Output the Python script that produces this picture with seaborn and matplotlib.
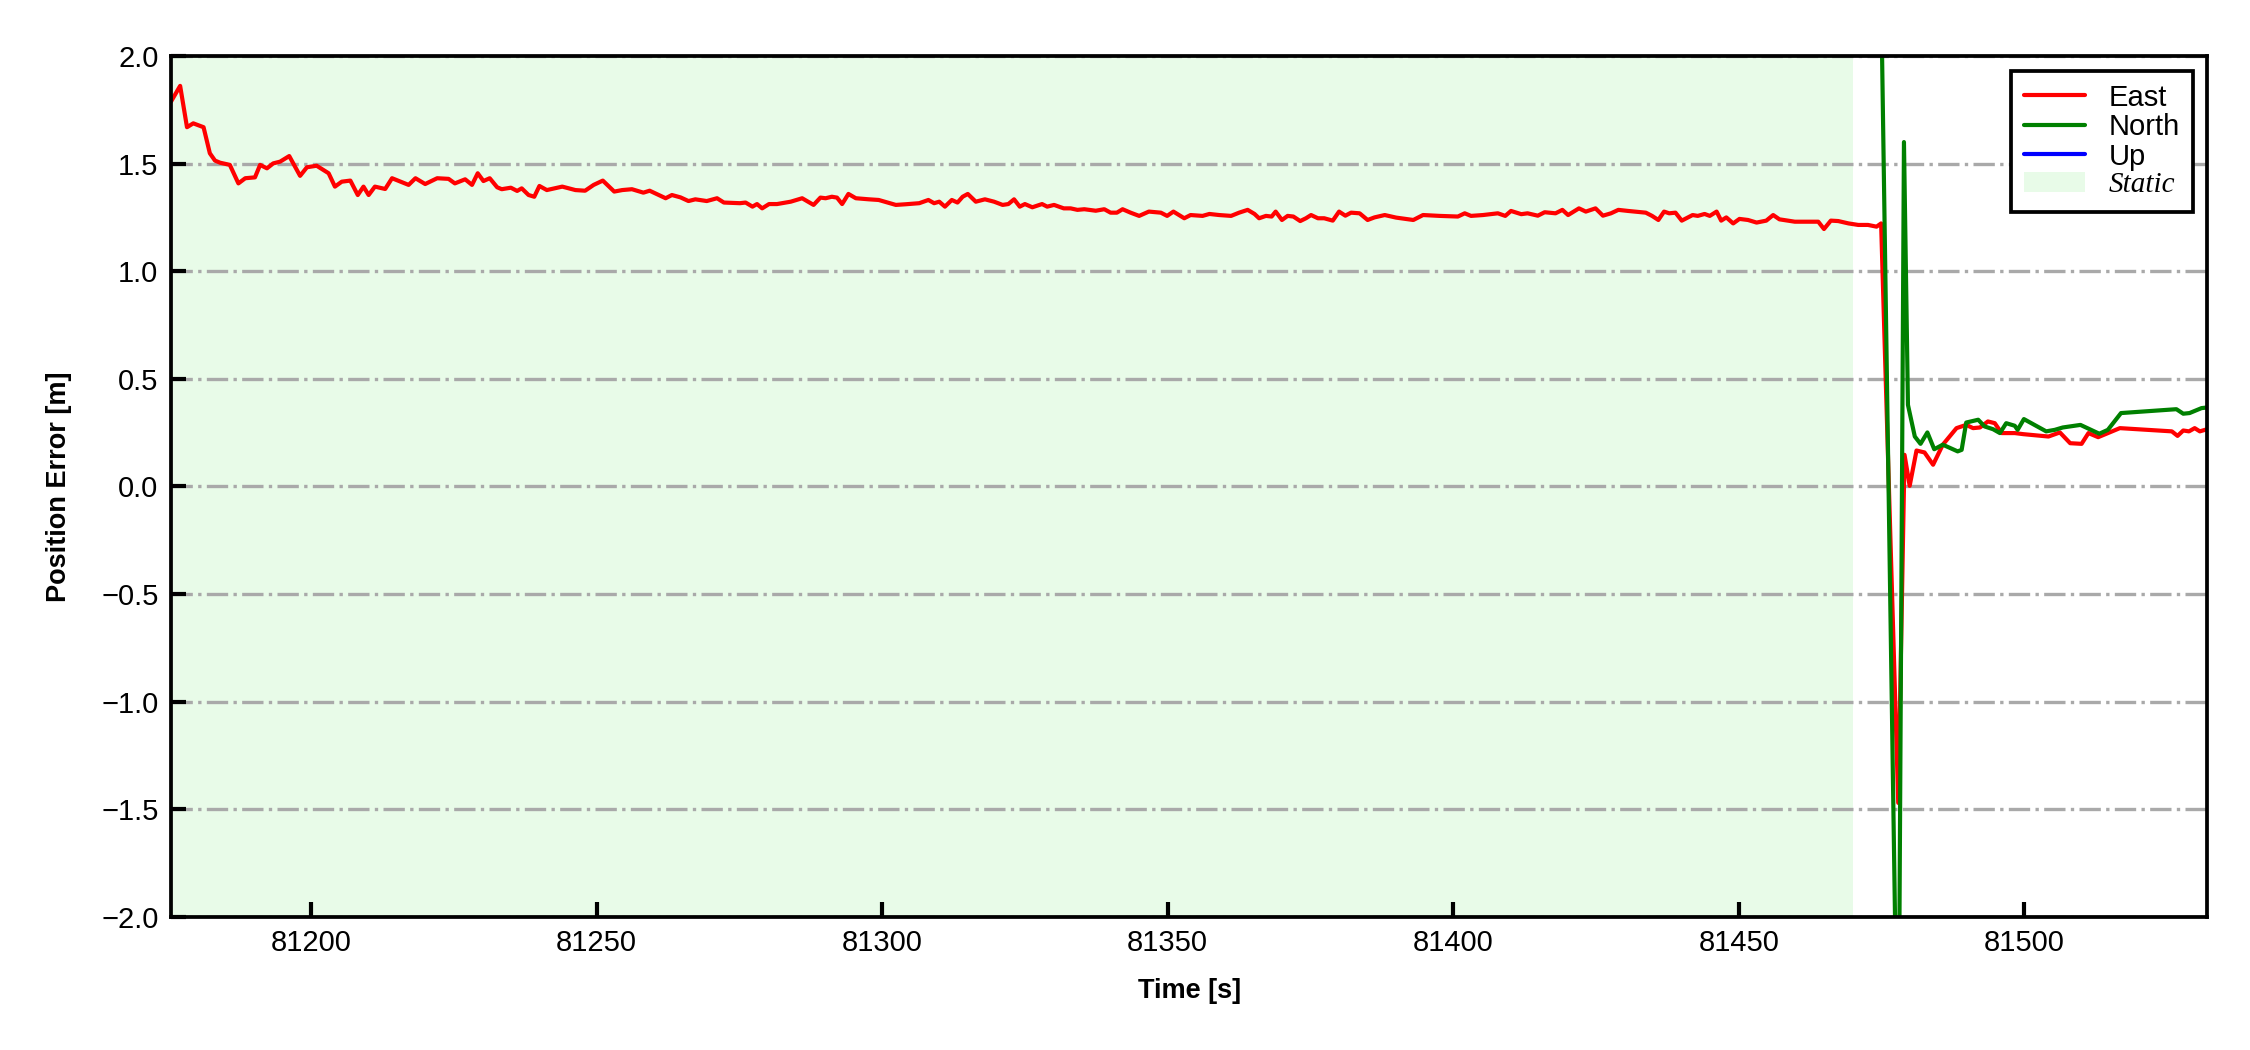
import numpy as np
import pandas as pd
import matplotlib
matplotlib.use("Agg")
import matplotlib.pyplot as plt
import seaborn as sns
from matplotlib.font_manager import FontProperties

# ---------------- data ----------------
time_east = [
    81175.5, 81177.1, 81178.3, 81179.4, 81181.2, 81182.3, 81183.2, 81184.1, 81185.8, 81187.3,
    81188.5, 81190.2, 81191.1, 81192.3, 81193.4, 81194.6, 81196.2, 81198.1, 81199.3, 81201.0,
    81203.1, 81204.2, 81205.4, 81206.9, 81208.2, 81209.2, 81210.1, 81211.2, 81213.0, 81214.2,
    81217.1, 81218.3, 81220.0, 81222.1, 81224.1, 81225.2, 81227.0, 81228.2, 81229.2, 81230.2,
    81231.3, 81232.6, 81233.4, 81235.0, 81236.1, 81236.9, 81238.1, 81239.1, 81240.0, 81241.3,
    81244.0, 81246.3, 81248.0, 81249.5, 81251.1, 81253.1, 81254.5, 81256.2, 81258.2, 81259.3,
    81262.1, 81263.2, 81264.7, 81266.1, 81267.3, 81269.3, 81271.1, 81272.3, 81275.1, 81276.1,
    81277.3, 81278.1, 81279.0, 81280.2, 81281.6, 81284.0, 81286.0, 81288.0, 81289.2, 81290.1,
    81291.2, 81292.1, 81293.0, 81294.1, 81295.4, 81297.7, 81299.4, 81302.4, 81304.1, 81306.5,
    81308.1, 81309.1, 81310.0, 81311.0, 81312.2, 81313.2, 81314.1, 81315.0, 81316.4, 81318.0,
    81319.6, 81321.1, 81322.1, 81323.1, 81324.1, 81325.0, 81326.3, 81328.0, 81328.9, 81330.1,
    81331.8, 81333.0, 81334.2, 81335.4, 81337.4, 81338.9, 81340.0, 81341.1, 81342.1, 81343.5,
    81345.0, 81346.7, 81348.8, 81349.9, 81351.0, 81352.9, 81354.0, 81356.1, 81357.3, 81359.0,
    81361.1, 81362.5, 81364.0, 81365.2, 81366.0, 81367.2, 81368.2, 81368.9, 81370.0, 81371.0,
    81372.0, 81373.2, 81374.2, 81375.1, 81376.3, 81377.4, 81378.9, 81380.0, 81381.1, 81382.1,
    81383.6, 81385.0, 81386.2, 81388.0, 81390.0, 81393.0, 81394.7, 81397.6, 81400.8, 81402.0,
    81403.1, 81405.2, 81407.8, 81409.1, 81410.1, 81411.9, 81413.0, 81414.8, 81416.0, 81417.9,
    81419.1, 81420.1, 81422.0, 81423.2, 81424.9, 81426.2, 81427.6, 81428.9, 81430.6, 81433.7,
    81434.8, 81435.9, 81436.9, 81437.8, 81438.9, 81440.0, 81441.9, 81442.8, 81444.0, 81444.9,
    81446.1, 81446.9, 81447.8, 81449.0, 81450.1, 81451.6, 81453.1, 81454.8, 81456.0, 81457.1,
    81459.8, 81463.9, 81464.9, 81466.1, 81467.4, 81469.2, 81470.9, 81472.6, 81474.1, 81474.9,
    81477.9, 81479.0, 81479.9, 81481.1, 81482.5, 81484.0, 81485.7, 81488.1, 81489.8, 81491.0,
    81492.2, 81493.6, 81494.8, 81496.0, 81498.3, 81499.8, 81504.2, 81506.2, 81508.0, 81510.0,
    81511.2, 81512.9, 81516.7, 81525.8, 81526.8, 81527.8, 81528.8, 81529.8, 81530.7, 81532.0,
]
east = [
    1.788, 1.861, 1.669, 1.687, 1.669, 1.548, 1.514, 1.504, 1.494, 1.408,
    1.432, 1.436, 1.494, 1.478, 1.501, 1.509, 1.535, 1.443, 1.483, 1.490,
    1.455, 1.393, 1.416, 1.421, 1.354, 1.393, 1.354, 1.393, 1.382, 1.432,
    1.401, 1.432, 1.405, 1.432, 1.429, 1.408, 1.427, 1.401, 1.455, 1.419,
    1.432, 1.390, 1.381, 1.388, 1.373, 1.385, 1.354, 1.346, 1.396, 1.377,
    1.393, 1.377, 1.374, 1.401, 1.421, 1.370, 1.377, 1.381, 1.365, 1.374,
    1.339, 1.354, 1.343, 1.326, 1.334, 1.326, 1.339, 1.319, 1.316, 1.319,
    1.300, 1.312, 1.292, 1.312, 1.312, 1.323, 1.339, 1.308, 1.342, 1.339,
    1.346, 1.342, 1.312, 1.359, 1.339, 1.334, 1.331, 1.308, 1.311, 1.316,
    1.331, 1.316, 1.323, 1.300, 1.331, 1.319, 1.346, 1.359, 1.323, 1.334,
    1.323, 1.308, 1.312, 1.334, 1.300, 1.312, 1.297, 1.312, 1.300, 1.308,
    1.292, 1.292, 1.285, 1.288, 1.281, 1.288, 1.272, 1.272, 1.288, 1.272,
    1.257, 1.277, 1.272, 1.257, 1.277, 1.246, 1.261, 1.257, 1.266, 1.261,
    1.257, 1.272, 1.285, 1.266, 1.246, 1.257, 1.254, 1.277, 1.238, 1.257,
    1.254, 1.233, 1.246, 1.261, 1.246, 1.246, 1.235, 1.277, 1.258, 1.272,
    1.269, 1.238, 1.250, 1.261, 1.249, 1.238, 1.261, 1.257, 1.254, 1.269,
    1.257, 1.261, 1.269, 1.257, 1.280, 1.265, 1.269, 1.258, 1.274, 1.269,
    1.285, 1.261, 1.292, 1.277, 1.292, 1.258, 1.269, 1.285, 1.280, 1.272,
    1.257, 1.238, 1.277, 1.269, 1.272, 1.235, 1.261, 1.257, 1.266, 1.257,
    1.277, 1.235, 1.250, 1.222, 1.243, 1.238, 1.226, 1.235, 1.261, 1.241,
    1.230, 1.230, 1.196, 1.235, 1.233, 1.222, 1.215, 1.215, 1.207, 1.222,
    -1.470, 0.147, 0.003, 0.167, 0.158, 0.101, 0.194, 0.271, 0.286, 0.271,
    0.274, 0.302, 0.294, 0.248, 0.248, 0.243, 0.232, 0.251, 0.201, 0.198,
    0.248, 0.229, 0.271, 0.256, 0.235, 0.260, 0.256, 0.271, 0.256, 0.266,
]

time_north = [
    81474.9, 81477.9, 81478.9, 81479.6, 81480.8, 81481.8, 81483.0, 81484.2, 81485.7, 81488.3,
    81489.0, 81489.8, 81491.9, 81493.0, 81494.5, 81495.7, 81496.8, 81498.3, 81498.8, 81499.9,
    81503.8, 81505.3, 81506.7, 81509.8, 81513.1, 81514.6, 81516.9, 81526.6, 81527.8, 81528.9,
    81531.0, 81532.0,
]
north = [
    2.300, -3.000, 1.600, 0.379, 0.232, 0.198, 0.251, 0.173, 0.194, 0.163,
    0.170, 0.297, 0.310, 0.279, 0.266, 0.248, 0.294, 0.282, 0.263, 0.313,
    0.256, 0.263, 0.274, 0.286, 0.245, 0.263, 0.341, 0.359, 0.338, 0.341,
    0.364, 0.367,
]

# Up stays off-scale (outside +/-2 m) for the whole window
time_up = [81474.9, 81532.0]
up = [-2.6, -2.5]

static_end = 81470.0
y_ticks = [-2.0, -1.5, -1.0, -0.5, 0.0, 0.5, 1.0, 1.5, 2.0]
x_ticks = [81200, 81250, 81300, 81350, 81400, 81450, 81500]

df_e = pd.DataFrame({"t": time_east, "v": east})
df_n = pd.DataFrame({"t": time_north, "v": north})
df_u = pd.DataFrame({"t": time_up, "v": up})

# ---------------- styling ----------------
sns.set_style("white")
plt.rcParams["font.family"] = ["Liberation Sans", "DejaVu Sans"]
plt.rcParams["axes.unicode_minus"] = True
plt.rcParams["text.color"] = "black"
plt.rcParams["axes.labelcolor"] = "black"

fig = plt.figure(figsize=(7.5, 3.5), dpi=300)
ax = fig.add_axes([0.076, 0.1267, 0.905, 0.82])

sns.lineplot(data=df_e, x="t", y="v", ax=ax, color="red", lw=1.0, label="East")
sns.lineplot(data=df_n, x="t", y="v", ax=ax, color="green", lw=1.0, label="North")
sns.lineplot(data=df_u, x="t", y="v", ax=ax, color="blue", lw=1.0, label="Up")
ax.axvspan(time_east[0], static_end, color="lightgreen", alpha=0.2, lw=0,
           zorder=0, label="Static")

ax.set_xlim(time_east[0], time_east[-1])
ax.set_ylim(-2.0, 2.0)
ax.set_yticks(y_ticks)
ax.set_xticks(x_ticks)
ax.yaxis.grid(True, linestyle="-.", color="darkgray", lw=0.8)
ax.xaxis.grid(False)
ax.set_axisbelow(True)

ax.tick_params(axis="both", direction="in", length=3.5, width=1.0,
               labelsize=7, colors="black", pad=3)
ax.tick_params(top=False, right=False, left=True, bottom=True)
for s in ax.spines.values():
    s.set_visible(True)
    s.set_color("black")
    s.set_linewidth(0.9)

ax.set_xlabel("Time [s]", fontsize=6.5, fontweight="bold", labelpad=5, color="black")
ax.set_ylabel("Position Error [m]", fontsize=6.5, fontweight="bold", labelpad=7,
              color="black")

leg = ax.legend(loc="upper right", fontsize=7, frameon=True, fancybox=False,
                edgecolor="black", framealpha=1, labelspacing=0.05,
                handlelength=2.1, borderpad=0.45)
leg.get_frame().set_linewidth(0.9)
for t in leg.get_texts():
    t.set_color("black")
leg.get_texts()[3].set_fontproperties(
    FontProperties(family="Liberation Serif", style="italic", size=7))

fig.savefig("out.png", dpi=300)
